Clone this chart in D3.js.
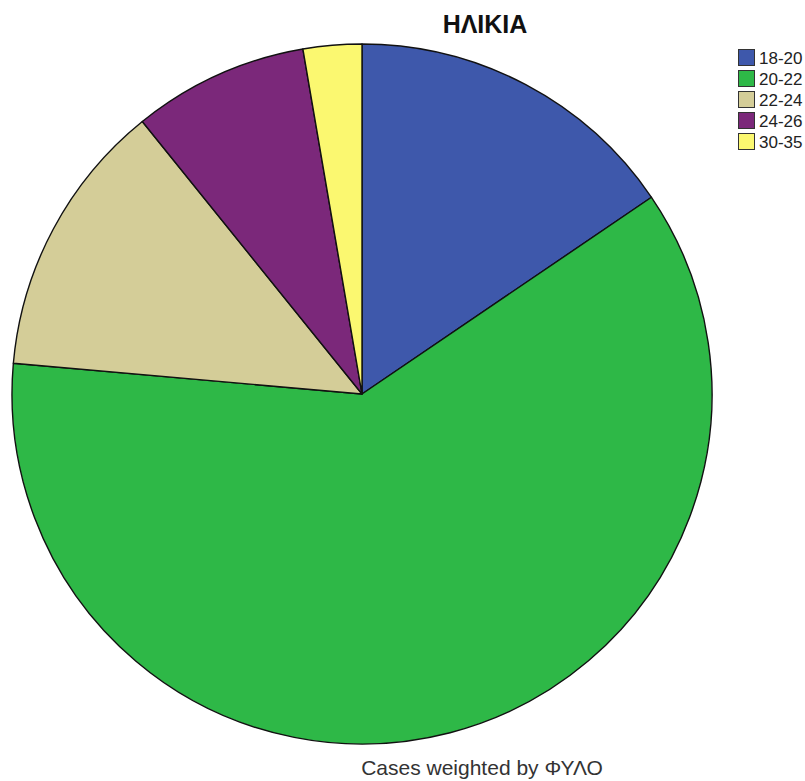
<!DOCTYPE html>
<html>
<head>
<meta charset="utf-8">
<script src="https://cdn.jsdelivr.net/npm/d3@7"></script>
<style>
  body { margin: 0; background: #fff; }
  svg { display: block; }
</style>
</head>
<body>
<div id="chart"></div>
<script>
// Data (percent of cases)
var categories = ['18-20', '20-22', '22-24', '24-26', '30-35'];
var shares = [15.5, 60.9, 12.8, 8.1, 2.7];
var colors = ['#3e58ab', '#2eb847', '#d4cd98', '#7b287a', '#fbf870'];

var width = 805;
var height = 781;
var cx = 362, cy = 394, radius = 350;

var svg = d3.select('#chart')
    .append('svg')
    .attr('width', width)
    .attr('height', height);

var dataset = categories.map(function(c, i) {
    return { label: c, value: shares[i] };
});

var color = d3.scaleOrdinal().domain(categories).range(colors);

var pie = d3.pie()
    .value(function(d) { return d.value; })
    .sort(null);

var arc = d3.arc()
    .innerRadius(0)
    .outerRadius(radius);

var g = svg.append('g')
    .attr('transform', 'translate(' + cx + ',' + cy + ')');

g.selectAll('path')
    .data(pie(dataset))
    .enter()
    .append('path')
    .attr('d', arc)
    .attr('fill', function(d) { return color(d.data.label); })
    .attr('stroke', '#111')
    .attr('stroke-width', 1.4)
    .attr('stroke-linejoin', 'round');

// Title
svg.append('text')
    .attr('x', 485)
    .attr('y', 33)
    .attr('text-anchor', 'middle')
    .style('font-family', 'Liberation Sans, Arial, sans-serif')
    .style('font-weight', 'bold')
    .style('font-size', '25px')
    .attr('fill', '#111')
    .text('ΗΛΙΚΙΑ');

// Legend
var legendSpacing = 21;

var legend = svg.selectAll('.legend')
    .data(categories)
    .enter()
    .append('g')
    .attr('class', 'legend')
    .attr('transform', function(d, i) {
        return 'translate(738.5,' + (49.5 + i * legendSpacing) + ')';
    });

legend.append('rect')
    .attr('width', 16)
    .attr('height', 16)
    .attr('fill', color)
    .attr('stroke', '#333')
    .attr('stroke-width', 1);

legend.append('text')
    .attr('x', 20.5)
    .attr('y', 14.5)
    .style('font-family', 'Liberation Sans, Arial, sans-serif')
    .style('font-size', '17px')
    .attr('fill', '#222')
    .text(function(d) { return d; });

// Footnote
svg.append('text')
    .attr('x', 482)
    .attr('y', 775)
    .attr('text-anchor', 'middle')
    .style('font-family', 'Liberation Sans, Arial, sans-serif')
    .style('font-size', '21px')
    .attr('fill', '#333')
    .text('Cases weighted by ΦΥΛΟ');
</script>
</body>
</html>
